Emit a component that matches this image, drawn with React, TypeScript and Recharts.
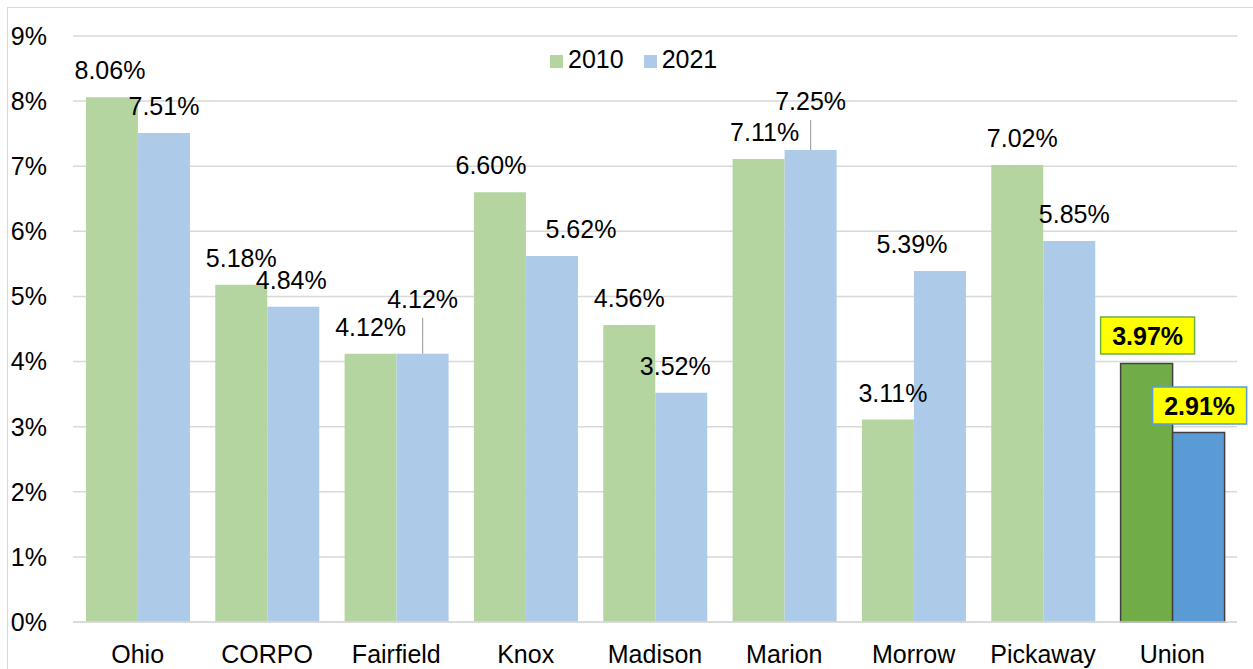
import React from "react";
import { BarChart, Bar, XAxis, YAxis, CartesianGrid, Cell } from "recharts";

const categories = ["Ohio", "CORPO", "Fairfield", "Knox", "Madison", "Marion", "Morrow", "Pickaway", "Union"];
const values2010 = [8.06, 5.18, 4.12, 6.6, 4.56, 7.11, 3.11, 7.02, 3.97];
const values2021 = [7.51, 4.84, 4.12, 5.62, 3.52, 7.25, 5.39, 5.85, 2.91];
const yTicks = [0, 1, 2, 3, 4, 5, 6, 7, 8, 9];
const seriesNames = ["2010", "2021"];
const highlight = "Union";

// hand-placed label nudges, as in the source chart: [dx, extra lift, leader line]
const nudge2010: [number, number, boolean][] = [
  [-2, 0, false], [0, 0, false], [0, 0, false], [-9, 0, false], [0, 0, false],
  [6, 0, false], [5, 0, false], [5, 0, false], [1, 1, false],
];
const nudge2021: [number, number, boolean][] = [
  [0, 0, false], [-2, 0, false], [0, 28, true], [29, 0, false], [-6, 0, false],
  [0, 22, true], [-28, 0, false], [5, 0, false], [1, 0, false],
];

const font = "'Liberation Sans', Arial, sans-serif";
const colors = {
  light2010: "#B5D5A0",
  light2021: "#ADCBE8",
  dark2010: "#70AD47",
  dark2021: "#5B9BD5",
  grid: "#D9D9D9",
};

const data = categories.map((name, i) => ({ name, v2010: values2010[i], v2021: values2021[i] }));

const makeLabel = (nudges: [number, number, boolean][], boxColor: string) => (props: any) => {
  const { x, y, width, value, index } = props;
  const [dx, lift, leader] = nudges[index];
  const cx = x + width / 2 + dx;
  const cy = y - 27 - lift;
  const text = `${Number(value).toFixed(2)}%`;
  if (categories[index] === highlight) {
    return (
      <g>
        <rect x={cx - 47} y={cy - 18.5} width={94} height={37} fill="#FFFF00" stroke={boxColor} strokeWidth={1.5} />
        <text x={cx} y={cy + 9} textAnchor="middle" fontFamily={font} fontSize={25} fontWeight="bold" fill="#000">
          {text}
        </text>
      </g>
    );
  }
  return (
    <g>
      {leader && (
        <line x1={x + width / 2} y1={y} x2={x + width / 2} y2={cy + 19} stroke="#A6A6A6" strokeWidth={1.2} />
      )}
      <text x={cx} y={cy + 9} textAnchor="middle" fontFamily={font} fontSize={25} fill="#000">
        {text}
      </text>
    </g>
  );
};

export default function App() {
  return (
    <div style={{ position: "absolute", left: 0, top: 0, width: 1253, height: 669, overflow: "hidden", background: "#fff" }}>
      <div style={{ position: "absolute", left: 7, top: 7, width: 1270, height: 680, border: `1px solid ${colors.grid}` }} />
      <div style={{ position: "absolute", left: 0, top: 0 }}>
        <BarChart
          width={1253}
          height={669}
          data={data}
          margin={{ top: 36, right: 16, bottom: 7, left: 0 }}
          barCategoryGap="10%"
          barGap={0}
        >
          <CartesianGrid vertical={false} stroke={colors.grid} strokeWidth={1.5} />
          <XAxis
            dataKey="name"
            height={40}
            tickLine={false}
            tickSize={0}
            tickMargin={23}
            axisLine={{ stroke: colors.grid, strokeWidth: 1.5 }}
            tick={{ fill: "#000", fontSize: 25, fontFamily: font }}
            interval={0}
          />
          <YAxis
            width={73}
            domain={[0, 9]}
            ticks={yTicks}
            tickFormatter={(v) => `${v}%`}
            tickLine={false}
            tickSize={0}
            tickMargin={26}
            axisLine={false}
            tick={{ fill: "#000", fontSize: 25, fontFamily: font }}
          />
          <Bar dataKey="v2010" isAnimationActive={false} label={makeLabel(nudge2010, colors.dark2010)}>
            {categories.map((c) => (
              <Cell
                key={c}
                fill={c === highlight ? colors.dark2010 : colors.light2010}
                stroke={c === highlight ? "#404040" : "none"}
                strokeWidth={c === highlight ? 1.5 : 0}
              />
            ))}
          </Bar>
          <Bar dataKey="v2021" isAnimationActive={false} label={makeLabel(nudge2021, colors.dark2021)}>
            {categories.map((c) => (
              <Cell
                key={c}
                fill={c === highlight ? colors.dark2021 : colors.light2021}
                stroke={c === highlight ? "#404040" : "none"}
                strokeWidth={c === highlight ? 1.5 : 0}
              />
            ))}
          </Bar>
        </BarChart>
      </div>
      <div style={{ position: "absolute", left: 550, top: 47, display: "flex", fontFamily: font, fontSize: 25, lineHeight: "25px" }}>
        {seriesNames.map((s, i) => (
          <div key={s} style={{ display: "flex", alignItems: "flex-start", marginRight: i === 0 ? 20 : 0 }}>
            <div style={{ width: 13, height: 13, marginTop: 8, marginRight: 5, background: i === 0 ? colors.light2010 : colors.light2021 }} />
            <span style={{ color: "#000" }}>{s}</span>
          </div>
        ))}
      </div>
    </div>
  );
}
